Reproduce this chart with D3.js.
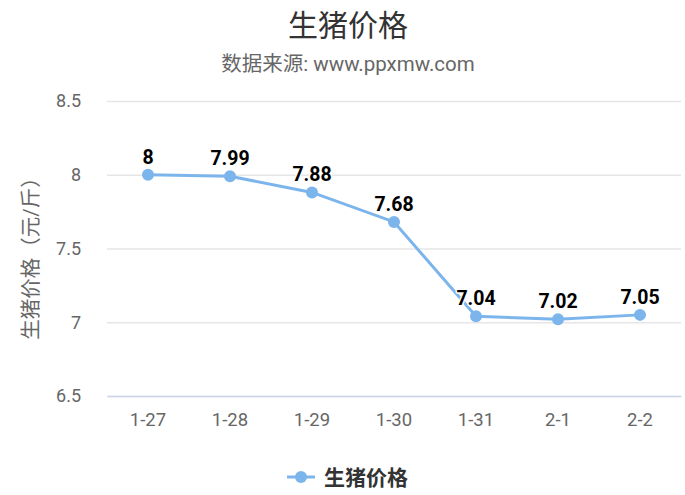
<!DOCTYPE html>
<html><head><meta charset="utf-8">
<script src="https://cdn.jsdelivr.net/npm/d3@7"></script>
<style>
body{margin:0;background:#fff;}
text{font-family:Roboto,"Noto Sans CJK SC",sans-serif;}
</style></head>
<body><svg id="c" width="685" height="495"></svg>
<script>
const categories = ["1-27","1-28","1-29","1-30","1-31","2-1","2-2"];
const values = [8, 7.99, 7.88, 7.68, 7.04, 7.02, 7.05];
const yTicks = [6.5, 7, 7.5, 8, 8.5];
const seriesName = "生猪价格";
const titleText = "生猪价格";
const subtitleText = "数据来源: www.ppxmw.com";
const yTitle = "生猪价格（元/斤）";

(function(){
const svg = d3.select("#c");
const pL = 107, pR = 681, pT = 101, pB = 396;
const x = d3.scaleBand().domain(categories).range([pL, pR]);
const y = d3.scaleLinear().domain([6.5, 8.5]).range([pB, pT]);
const color = "#7cb5ec";

svg.append("text").attr("x", 348).attr("y", 36).attr("text-anchor","middle")
  .attr("font-size", 30).attr("fill","#333").text(titleText);
svg.append("text").attr("x", 348).attr("y", 71).attr("text-anchor","middle")
  .attr("font-size", 20.5).attr("fill","#666").text(subtitleText);

const yAxis = d3.axisLeft(y).tickValues(yTicks).tickSize(-(pR-pL)).tickFormat(d3.format("~g")).tickPadding(26);
const gy = svg.append("g").attr("transform",`translate(${pL},0)`).call(yAxis);
gy.select(".domain").remove();
gy.selectAll(".tick line").attr("stroke","#e6e6e6").attr("stroke-width",1.5);
gy.selectAll(".tick text").attr("font-size",18).attr("fill","#666").attr("font-family","Roboto,sans-serif");

const xAxis = d3.axisBottom(x).tickSize(0).tickPadding(17);
const gx = svg.append("g").attr("transform",`translate(0,${pB})`).call(xAxis);
gx.select(".domain").attr("stroke","#ccd6eb").attr("stroke-width",1.5);
gx.selectAll(".tick text").attr("font-size",18.5).attr("fill","#666").attr("font-family","Roboto,sans-serif");

svg.append("text").attr("transform",`translate(38,${(pT+pB)/2 + 5}) rotate(-90)`)
  .attr("text-anchor","middle").attr("font-size",20.5).attr("fill","#666").text(yTitle);

const cx = d => x(d) + x.bandwidth()/2;
const line = d3.line().x((d,i)=>cx(categories[i])).y(d=>y(d));
svg.append("path").datum(values).attr("d", line).attr("fill","none").attr("stroke",color).attr("stroke-width",3);
svg.selectAll("circle.pt").data(values).enter().append("circle")
  .attr("cx",(d,i)=>cx(categories[i])).attr("cy",d=>y(d)).attr("r",6).attr("fill",color);

svg.selectAll("text.lbl").data(values).enter().append("text")
  .attr("x",(d,i)=>cx(categories[i])).attr("y",d=>y(d)-11)
  .attr("text-anchor","middle").attr("font-size",19.5).attr("font-weight","bold")
  .attr("fill","#000").attr("stroke","#fff").attr("stroke-width",3).attr("paint-order","stroke")
  .attr("stroke-linejoin","round")
  .text(d=>d3.format("~g")(d));

const lg = svg.append("g");
lg.append("line").attr("x1",287).attr("x2",315).attr("y1",477).attr("y2",477).attr("stroke",color).attr("stroke-width",3);
lg.append("circle").attr("cx",301).attr("cy",477).attr("r",6).attr("fill",color);
lg.append("text").attr("x",324).attr("y",484.5).attr("font-size",21).attr("font-weight","bold").attr("fill","#333").text(seriesName);
})();
</script></body></html>
